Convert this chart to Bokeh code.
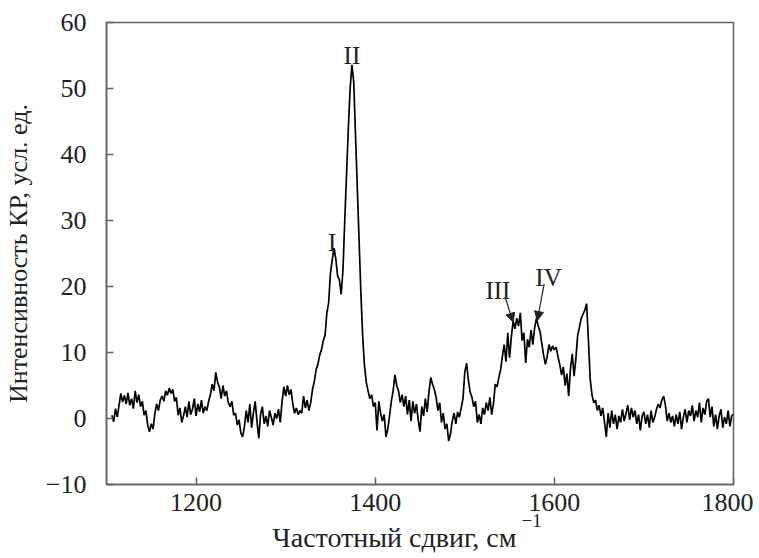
from bokeh.plotting import figure
from bokeh.models import FixedTicker, Label, Arrow, NormalHead, Range1d, Title
from bokeh.embed import file_html
from bokeh.resources import INLINE

# Raman spectrum, intensity every 2 cm^-1 starting at 1106
start_shift = 1106
step_shift = 2
intensity = [
    0.5, -0.5, 1.5, 0.2, 2.0, 3.8, 2.5, 3.5, 2.2, 3.9,
    2.0, 3.0, 1.5, 4.2, 2.4, 3.6, 1.8, 2.6, 0.5, 1.2,
    -1.0, -2.0, -0.8, -1.6, 0.8, 2.2, 1.2, 2.8, 3.4, 2.6,
    4.2, 3.5, 4.6, 3.8, 4.4, 2.6, 3.2, 0.5, 1.6, -0.6,
    0.4, 1.8, 0.2, 2.6, 0.6, 1.4, 3.0, 0.4, 2.2, 1.0,
    2.8, 0.8, 1.8, 1.2, 2.6, 3.6, 5.2, 4.2, 7.0, 5.5,
    4.8, 3.0, 5.0, 3.4, 4.2, 2.4, 1.8, 2.6, 0.5, 0.8,
    -1.0, -0.2, -2.2, -2.8, -1.2, 1.2, -0.6, 2.2, -1.4, 0.8,
    2.6, -0.4, -3.0, 0.6, 1.8, -0.8, 0.4, -1.2, 1.2, 0.2,
    -1.0, 0.8, 0.0, 1.4, -0.6, 2.6, 4.8, 3.4, 5.0, 3.6,
    4.4, 2.2, 0.8, 1.6, 0.6, 1.2, 0.8, 3.4, 1.6, 2.8,
    1.2, 2.4, 4.4, 5.6, 7.4, 8.2, 9.6, 10.4, 11.8, 12.6,
    16.0, 17.5, 22.0, 24.0, 25.8, 24.2, 21.6, 21.0, 18.8, 22.5,
    30.0, 37.0, 44.0, 50.0, 53.6, 51.0, 43.0, 35.0, 27.0, 19.0,
    12.5, 8.0, 5.5, 4.2, 3.0, 3.6, 1.8, 2.4, -1.8, 2.6,
    0.8, -0.4, 0.6, -2.8, -1.6, 0.4, 2.6, 4.2, 6.6, 5.0,
    4.2, 2.4, 3.6, 1.8, 3.4, 0.6, 2.8, -0.4, 2.6, 0.8,
    2.2, -0.2, -2.0, 1.8, 0.4, 3.0, 1.0, 4.0, 6.2, 5.2,
    4.4, 3.2, 1.2, 2.4, -0.6, 0.8, -1.6, -0.8, -3.4, -2.4,
    -0.4, 0.8, -0.8, 1.0, 0.2, 1.6, 3.0, 7.0, 8.4, 5.8,
    4.0, 3.2, 1.8, 2.6, -0.6, 0.6, -0.8, 1.6, 0.6, 2.4,
    1.2, 3.2, 0.6, 2.2, 5.2, 4.8, 6.2, 7.4, 9.4, 11.2,
    8.6, 13.0, 9.2, 12.4, 14.8, 13.6, 15.2, 14.0, 16.0, 11.8,
    13.0, 8.4, 12.0, 10.8, 13.4, 11.2, 13.8, 15.2, 14.0, 13.2,
    11.4, 9.6, 8.2, 9.4, 11.2, 10.2, 11.0, 10.4, 10.8, 9.4,
    8.2, 6.6, 7.8, 5.0, 6.8, 3.4, 7.6, 9.8, 6.4, 9.0,
    12.6, 13.8, 15.2, 15.8, 16.4, 17.4, 12.0, 6.0, 3.6, 2.4,
    2.8, 1.2, 2.0, 0.4, 1.6, -0.6, -2.8, 0.8, -1.4, 1.2,
    -0.8, 0.6, -1.6, 0.4, -0.6, 1.4, -0.4, 0.8, 2.0, -0.2,
    1.6, 0.2, 1.2, -0.8, 0.6, -1.8, 0.4, 1.0, -0.8, 0.6,
    -1.4, 1.2, -0.6, 0.2, 1.4, 2.2, 1.6, 2.8, 3.4, 2.0,
    -0.4, 0.8, -0.6, 0.4, -1.2, 0.6, -0.8, 1.0, -1.6, 0.2,
    1.4, -0.6, 1.2, 0.4, 2.0, -0.4, 1.2, 0.2, 2.4, -0.6,
    1.6, 0.6, 2.6, 3.0, 0.2, 1.8, -1.2, 0.6, -1.6, 0.4,
    1.4, -1.4, 0.2, -0.8, 1.2, -1.2, 0.4, 0.6,
]
shift = [start_shift + step_shift * i for i in range(len(intensity))]

x_ticks = [1200, 1400, 1600, 1800]
y_ticks = [-10, 0, 10, 20, 30, 40, 50, 60]

peak_labels = ["I", "II", "III", "IV"]
peak_label_x = [1352, 1374, 1537, 1593.5]
peak_label_y = [26.7, 55.0, 19.4, 21.4]
arrow_start = [(1545, 18.4), (1588.6, 20.4)]
arrow_end = [(1554, 14.6), (1581, 14.85)]

FONT = "Liberation Serif"
AX = "#606060"
TXT = "#222222"

p = figure(output_backend="svg", toolbar_location=None,
           frame_width=627, frame_height=462,
           min_border_left=104, min_border_right=20,
           min_border_top=22, min_border_bottom=74,
           x_range=Range1d(1100, 1800), y_range=Range1d(-10, 60))

p.line(shift, intensity, line_color="black", line_width=1.7)

p.xgrid.visible = False
p.ygrid.visible = False
p.outline_line_color = AX
p.outline_line_width = 1.5
p.background_fill_color = "white"
p.border_fill_color = "white"

for ax in (p.xaxis[0], p.yaxis[0]):
    ax.axis_line_color = AX
    ax.axis_line_width = 1.5
    ax.major_tick_line_color = AX
    ax.major_tick_line_width = 1.5
    ax.major_tick_in = 7
    ax.major_tick_out = 0
    ax.minor_tick_line_color = None
    ax.major_label_text_font = FONT
    ax.major_label_text_font_size = "26px"
    ax.major_label_text_color = TXT
    ax.axis_label_text_font = FONT
    ax.axis_label_text_font_size = "26px"
    ax.axis_label_text_font_style = "normal"
    ax.axis_label_text_color = TXT

p.xaxis.ticker = FixedTicker(ticks=x_ticks)
p.yaxis.ticker = FixedTicker(ticks=y_ticks)
p.yaxis.major_label_overrides = {-10: "\u221210"}
p.xaxis.major_label_standoff = 9
p.yaxis.major_label_standoff = 20
p.yaxis.axis_label = "Интенсивность КР, усл. ед."
p.yaxis.axis_label_standoff = 10

# x axis title: superscript first (nearer the axis), then the main text overlapping it
sup = Title(text="\u22121", align="left", offset=415,
            text_font=FONT, text_font_size="19px", text_font_style="normal",
            text_color=TXT, standoff=-3)
main = Title(text="Частотный сдвиг, см", align="left", offset=166,
             text_font=FONT, text_font_size="28px", text_font_style="normal",
             text_color=TXT, standoff=-11)
p.add_layout(sup, "below")
p.add_layout(main, "below")

for t, lx, ly in zip(peak_labels, peak_label_x, peak_label_y):
    p.add_layout(Label(x=lx, y=ly, text=t, text_font=FONT, text_font_size="25px",
                       text_color=TXT, text_align="center", text_baseline="alphabetic"))

for (x0, y0), (x1, y1) in zip(arrow_start, arrow_end):
    p.add_layout(Arrow(x_start=x0, y_start=y0, x_end=x1, y_end=y1,
                       line_color="#222222", line_width=1.2,
                       end=NormalHead(size=9, fill_color="#222222", line_color="#222222")))

open("out.html", "w").write(file_html(p, INLINE))
